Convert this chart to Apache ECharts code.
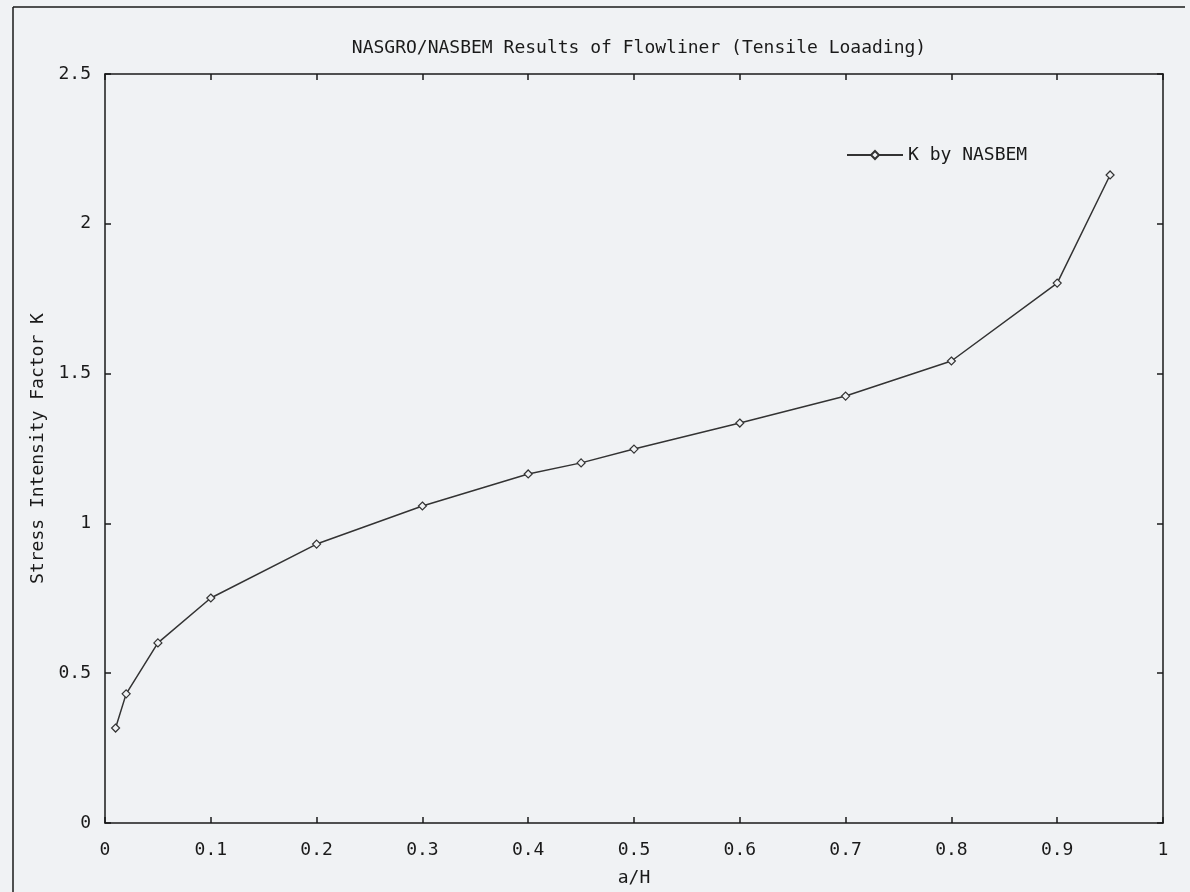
<!DOCTYPE html>
<html>
<head>
<meta charset="utf-8">
<script src="https://cdn.jsdelivr.net/npm/echarts@6/dist/echarts.min.js"></script>
<style>html,body{margin:0;padding:0;background:#f0f2f4;overflow:hidden;}#c{width:1190px;height:892px;}</style>
</head>
<body>
<div id="c"></div>
<script>
var xValues = [0.01, 0.02, 0.05, 0.1, 0.2, 0.3, 0.4, 0.45, 0.5, 0.6, 0.7, 0.8, 0.9, 0.95];
var kValues = [0.317, 0.431, 0.601, 0.751, 0.931, 1.058, 1.165, 1.202, 1.248, 1.335, 1.425, 1.542, 1.802, 2.163];
var seriesName = 'K by NASBEM';
var titleText = 'NASGRO/NASBEM Results of Flowliner (Tensile Loaading)';

var font = '"DejaVu Sans Mono", monospace';
var ink = '#1a1a1a';
var fs = 18;
var chart = echarts.init(document.getElementById('c'));
var data = xValues.map(function (x, i) { return [x, kValues[i]]; });
var axisCommon = {
  axisLine: { show: true, onZero: false, lineStyle: { color: ink, width: 1.5 } },
  axisTick: { show: true, inside: true, length: 6, lineStyle: { color: ink, width: 1.5 } },
  splitLine: { show: false }
};
chart.setOption({
  backgroundColor: '#f0f2f4',
  animation: false,
  title: {
    text: titleText, left: 634, top: 34, textAlign: 'center',
    textStyle: { fontFamily: font, fontSize: fs, fontWeight: 'normal', color: ink }
  },
  legend: {
    data: [seriesName], left: 841, top: 141, itemWidth: 56, itemHeight: 10, itemGap: 8,
    textStyle: { fontFamily: font, fontSize: fs, color: ink }
  },
  grid: { left: 105, right: 27, top: 74, bottom: 66, containLabel: false },
  graphic: [
    { type: 'line', shape: { x1: 13, y1: 7, x2: 13, y2: 892 }, style: { stroke: ink, lineWidth: 1.5 }, silent: true },
    { type: 'line', shape: { x1: 13, y1: 7, x2: 1185, y2: 7 }, style: { stroke: ink, lineWidth: 1.5 }, silent: true }
  ],
  xAxis: [
    Object.assign({
      type: 'value', min: 0, max: 1, interval: 0.1, position: 'bottom',
      name: 'a/H', nameLocation: 'middle', nameGap: 46,
      nameTextStyle: { fontFamily: font, fontSize: fs, color: ink },
      axisLabel: { margin: 18, fontFamily: font, fontSize: fs, color: ink,
        formatter: function (v) { return String(Math.round(v * 10) / 10); } }
    }, axisCommon),
    Object.assign({
      type: 'value', min: 0, max: 1, interval: 0.1, position: 'top',
      axisLabel: { show: false }
    }, axisCommon)
  ],
  yAxis: [
    Object.assign({
      type: 'value', min: 0, max: 2.5, interval: 0.5, position: 'left',
      name: 'Stress Intensity Factor K', nameLocation: 'middle', nameGap: 56,
      nameTextStyle: { fontFamily: font, fontSize: fs, color: ink },
      axisLabel: { margin: 14, fontFamily: font, fontSize: fs, color: ink,
        formatter: function (v) { return String(Math.round(v * 10) / 10); } }
    }, axisCommon),
    Object.assign({
      type: 'value', min: 0, max: 2.5, interval: 0.5, position: 'right',
      axisLabel: { show: false }
    }, axisCommon)
  ],
  series: [{
    name: seriesName, type: 'line', data: data,
    symbol: 'diamond', symbolSize: 8, showSymbol: true,
    lineStyle: { color: '#333', width: 1.5 },
    itemStyle: { color: '#f0f2f4', borderColor: '#333', borderWidth: 1.2 }
  }]
});
</script>
</body>
</html>
